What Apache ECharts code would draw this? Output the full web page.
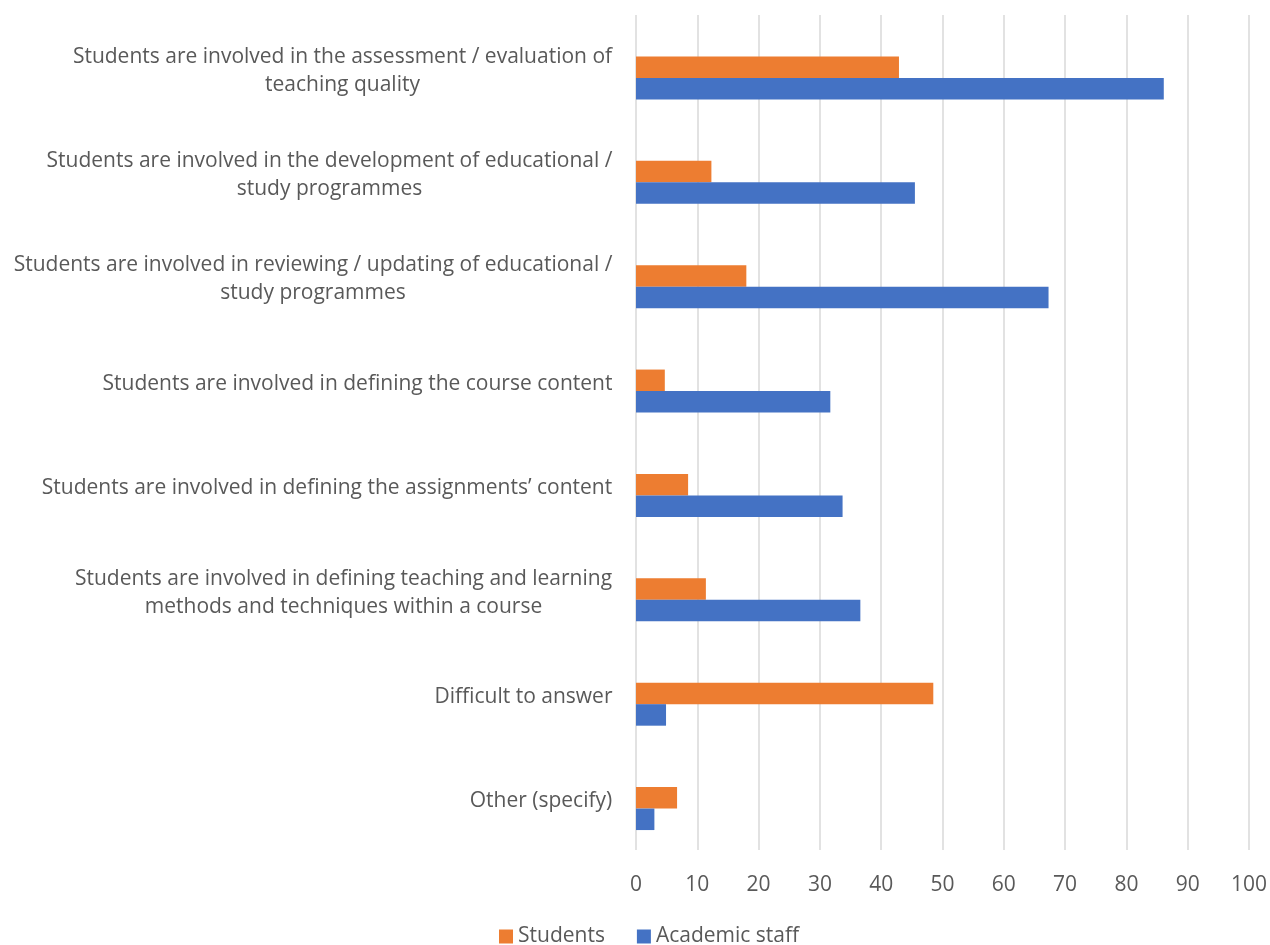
<!DOCTYPE html>
<html>
<head>
<meta charset="utf-8">
<script src="https://cdn.jsdelivr.net/npm/echarts@6/dist/echarts.min.js"></script>
<style>
  html, body { margin: 0; padding: 0; background: #fff; }
  #chart { width: 1270px; height: 945px; }
</style>
</head>
<body>
<div id="chart"></div>
<script>
// categories, top to bottom
const categories = [
  'Students are involved in the assessment / evaluation of\nteaching quality',
  'Students are involved in the development of educational /\nstudy programmes',
  'Students are involved in reviewing / updating of educational /\nstudy programmes',
  'Students are involved in defining the course content',
  'Students are involved in defining the assignments\u2019 content',
  'Students are involved in defining teaching and learning\nmethods and techniques within a course',
  'Difficult to answer',
  'Other (specify)'
];
const students = [42.9, 12.3, 18.0, 4.7, 8.5, 11.4, 48.5, 6.7];
const academicStaff = [86.1, 45.5, 67.3, 31.7, 33.7, 36.6, 4.9, 3.0];
const xTicks = [0, 10, 20, 30, 40, 50, 60, 70, 80, 90, 100];

const textColor = '#595959';
const font = 'Open Sans';
const fontSize = 21;

// multi-line labels: lines centred on each other, block right-aligned to the axis
const ctx = document.createElement('canvas').getContext('2d');
ctx.font = fontSize + 'px "' + font + '"';
const rich = {};
categories.forEach((c, i) => {
  const w = Math.max(...c.split('\n').map(l => ctx.measureText(l).width));
  rich['c' + i] = { width: Math.ceil(w) + 1, align: 'center', fontSize: fontSize, lineHeight: 28, color: textColor, fontFamily: font };
});

const chart = echarts.init(document.getElementById('chart'));
chart.setOption({
  animation: false,
  textStyle: { fontFamily: font },
  grid: { left: 636, right: 20, top: 15, bottom: 95 },
  legend: {
    data: ['Students', 'Academic staff'],
    top: 921,
    left: 494,
    itemWidth: 14,
    itemHeight: 14,
    itemGap: 32,
    icon: 'rect',
    textStyle: { color: textColor, fontSize: fontSize, fontFamily: font }
  },
  xAxis: {
    type: 'value',
    min: xTicks[0],
    max: xTicks[xTicks.length - 1],
    interval: 10,
    axisLine: { show: false },
    axisTick: { show: false },
    splitLine: { lineStyle: { color: '#d9d9d9', width: 1.5 } },
    axisLabel: { color: textColor, fontSize: fontSize, margin: 25 }
  },
  yAxis: {
    type: 'category',
    data: categories,
    inverse: true,
    axisLine: { show: false },
    axisTick: { show: false },
    axisLabel: {
      color: textColor,
      fontSize: fontSize,
      lineHeight: 28,
      margin: 23,
      padding: [7, 0, 0, 0],
      formatter: (v, i) => v.split('\n').map(l => '{c' + i + '|' + l + '}').join('\n'),
      rich: rich
    }
  },
  series: [
    // empty slot that Excel leaves above each pair of bars
    { name: 'spacer', type: 'bar', data: [], barWidth: 21.5, barGap: '0%', silent: true },
    {
      name: 'Students', type: 'bar', data: students,
      barWidth: 21.5, barGap: '0%',
      itemStyle: { color: '#ED7D31' }
    },
    {
      name: 'Academic staff', type: 'bar', data: academicStaff,
      barWidth: 21.5, barGap: '0%',
      itemStyle: { color: '#4472C4' }
    }
  ]
});
</script>
</body>
</html>
